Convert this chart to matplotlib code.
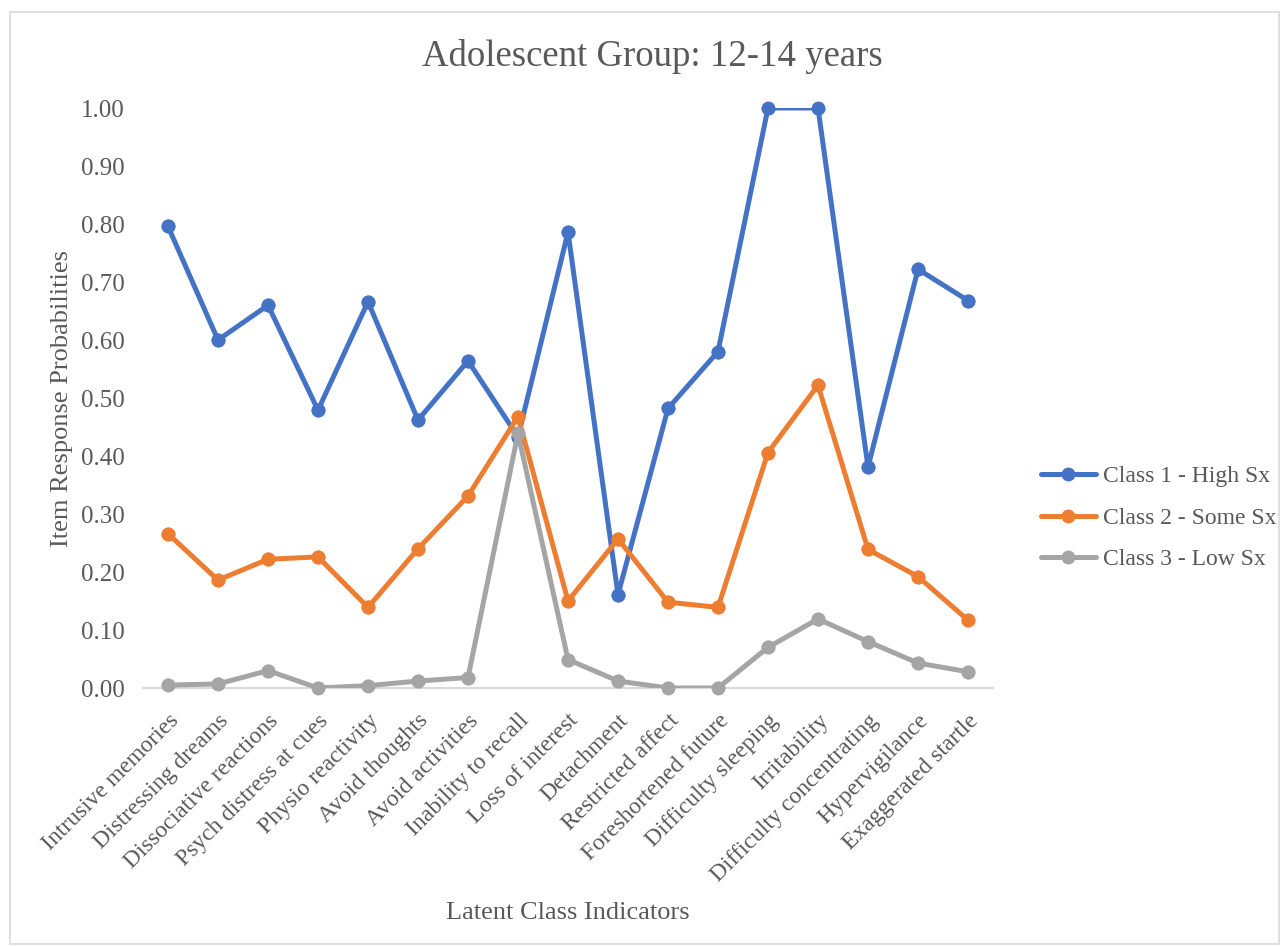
import matplotlib
matplotlib.use("Agg")
import matplotlib.pyplot as plt
from matplotlib.patches import Rectangle

indicators = [
    "Intrusive memories", "Distressing dreams", "Dissociative reactions",
    "Psych distress at cues", "Physio reactivity", "Avoid thoughts",
    "Avoid activities", "Inability to recall", "Loss of interest",
    "Detachment", "Restricted affect", "Foreshortened future",
    "Difficulty sleeping", "Irritability", "Difficulty concentrating",
    "Hypervigilance", "Exaggerated startle",
]

class1_high = [0.796, 0.600, 0.660, 0.479, 0.666, 0.462, 0.564, 0.433, 0.786,
               0.161, 0.482, 0.580, 1.000, 1.000, 0.381, 0.722, 0.668]
class2_some = [0.266, 0.186, 0.222, 0.226, 0.139, 0.240, 0.331, 0.468, 0.150,
               0.257, 0.148, 0.139, 0.406, 0.522, 0.239, 0.192, 0.117]
class3_low = [0.005, 0.007, 0.030, 0.000, 0.004, 0.012, 0.018, 0.439, 0.049,
              0.012, 0.000, 0.000, 0.070, 0.119, 0.080, 0.043, 0.028]

series_names = ["Class 1 - High Sx", "Class 2 - Some Sx", "Class 3 - Low Sx"]
series_colors = ["#4472C4", "#ED7D31", "#A5A5A5"]
y_ticks = [0.0, 0.1, 0.2, 0.3, 0.4, 0.5, 0.6, 0.7, 0.8, 0.9, 1.0]

plt.rcParams["font.family"] = ["Liberation Serif", "DejaVu Serif"]
text_color = "#595959"

W, H = 1281, 946
fig = plt.figure(figsize=(W / 100, H / 100), dpi=100)

# chart area border
fig.patches.append(Rectangle((10 / W, 1 - 944 / H), (1279 - 10) / W, (944 - 12) / H,
                             transform=fig.transFigure, fill=False,
                             edgecolor="#D9D9D9", linewidth=1.2))

ax = fig.add_axes([143 / W, 1 - 688 / H, (993 - 143) / W, (688 - 108) / H])

x = list(range(len(indicators)))
handles = []
for vals, name, col in zip([class1_high, class2_some, class3_low], series_names, series_colors):
    line, = ax.plot(x, vals, color=col, linewidth=3.6, marker="o", markersize=9,
                    label=name, solid_capstyle="round", clip_on=True, zorder=3)
    ax.plot(x, vals, linestyle="none", marker="o", markersize=9, color=col,
            clip_on=False, zorder=3)
    handles.append(line)

ax.set_xlim(-0.5, len(indicators) - 0.5)
ax.set_ylim(0, 1.0)
ax.set_yticks(y_ticks)
ax.set_yticklabels([f"{v:.2f}" for v in y_ticks])
ax.set_xticks(x)
ax.set_xticklabels(indicators, rotation=45, ha="right", rotation_mode="anchor")

for s in ["top", "right", "left"]:
    ax.spines[s].set_visible(False)
ax.spines["bottom"].set_color("#D9D9D9")
ax.spines["bottom"].set_linewidth(1.5)
ax.spines["bottom"].set_zorder(1)

ax.tick_params(axis="both", length=0, labelcolor=text_color)
ax.tick_params(axis="y", pad=13, labelsize=18)
ax.tick_params(axis="x", pad=16, labelsize=17)

fig.text(652 / W, 1 - 56 / H, "Adolescent Group: 12-14 years", fontsize=26.5,
         color=text_color, ha="center", va="center")
ax.set_ylabel("Item Response Probabilities", fontsize=19, color=text_color, labelpad=6)
ax.set_xlabel("Latent Class Indicators", fontsize=19, color=text_color, labelpad=12)

leg = fig.legend(handles=handles, loc="center left",
                 bbox_to_anchor=(1020 / W, 1 - 518 / H), frameon=False,
                 fontsize=17, handlelength=2.3, handletextpad=0.3,
                 labelspacing=0.85, labelcolor=text_color)

fig.savefig("out.png", dpi=100)
